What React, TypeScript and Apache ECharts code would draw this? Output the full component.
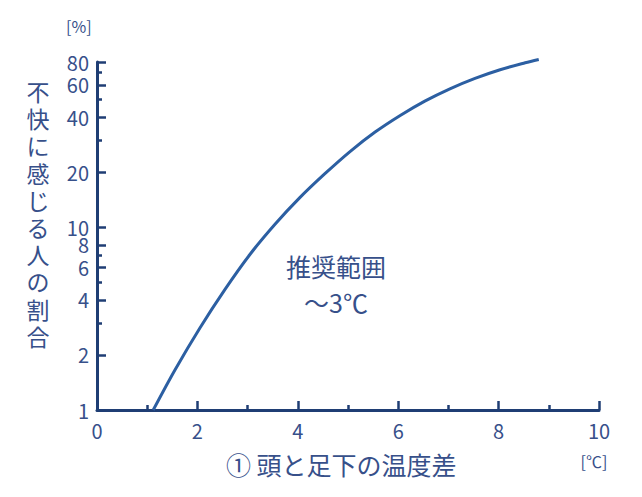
import React, { useEffect, useRef } from "react";
import * as echarts from "echarts";

const xValues = [1.12, 1.55, 2.05, 2.55, 3.05, 3.55, 4.04, 4.54, 5.04, 5.54, 6.04, 6.53, 7.03, 7.53, 8.03, 8.53, 8.8];
const yValues = [1, 1.65, 2.81, 4.57, 7.11, 10.4, 14.5, 19.6, 25.9, 33.1, 40.8, 48.9, 57.1, 65.1, 72.6, 79.2, 82.6];
const yMajorTicks = [1, 2, 4, 6, 8, 10, 20, 40, 60, 80];
const yMinorTicks = [3, 5, 7, 30, 50, 70];
const xTickLabels = [0, 2, 4, 6, 8, 10];
const yTitleChars = ["不", "快", "に", "感", "じ", "る", "人", "の", "割", "合"];

const AXIS = "#1f3e74";
const LINE = "#2c5fa2";
const TEXT = "#37508a";
const FONT = "'Noto Sans CJK JP', 'Noto Sans', sans-serif";

export default function App() {
  const ref = useRef<HTMLDivElement>(null);
  useEffect(() => {
    if (!ref.current) return;
    const chart = echarts.init(ref.current, null, { renderer: "svg" });
    const titleEls = yTitleChars.map((c, i) => ({
      type: "text",
      x: 38,
      y: 91 + i * 27.2,
      style: { text: c, fill: TEXT, fontSize: 23, fontFamily: FONT, align: "center", verticalAlign: "middle" },
    }));
    chart.setOption({
      animation: false,
      backgroundColor: "#ffffff",
      grid: { left: 97, right: 43, top: 62, bottom: 87, containLabel: false },
      xAxis: {
        type: "value",
        min: 0,
        max: 10,
        interval: 2,
        axisLine: { show: true, lineStyle: { color: AXIS, width: 3 } },
        axisTick: { show: true, inside: true, length: 9, lineStyle: { color: AXIS, width: 2.5 } },
        minorTick: { show: true, splitNumber: 2, length: 5, lineStyle: { color: AXIS, width: 2.5 } },
        axisLabel: {
          color: TEXT,
          fontSize: 20,
          fontFamily: FONT,
          margin: 10,
          formatter: (v: number) => (xTickLabels.includes(v) ? String(v) : ""),
        },
        splitLine: { show: false },
      },
      yAxis: [
        {
          type: "log",
          logBase: 10,
          min: 1,
          max: 80,
          position: "left",
          axisLine: { show: true, onZero: false, lineStyle: { color: AXIS, width: 3 } },
          axisTick: { show: true, inside: true, length: 9, customValues: yMajorTicks, lineStyle: { color: AXIS, width: 2.5 } },
          axisLabel: { color: TEXT, fontSize: 20, lineHeight: 16, fontFamily: FONT, margin: 8, customValues: yMajorTicks },
          splitLine: { show: false },
          minorTick: { show: false },
        },
        {
          type: "log",
          logBase: 10,
          min: 1,
          max: 80,
          position: "left",
          axisLine: { show: false },
          axisTick: { show: true, inside: true, length: 5, customValues: yMinorTicks, lineStyle: { color: AXIS, width: 2.5 } },
          axisLabel: { show: false },
          splitLine: { show: false },
        },
      ],
      series: [
        {
          type: "line",
          data: xValues.map((x, i) => [x, yValues[i]]),
          yAxisIndex: 0,
          smooth: 0.3,
          showSymbol: false,
          clip: false,
          lineStyle: { color: LINE, width: 3 },
        },
      ],
      graphic: [
        {
          type: "text",
          left: 66,
          top: 18,
          style: { text: "[%]", fill: TEXT, fontSize: 16, fontFamily: FONT },
        },
        ...titleEls,
        {
          type: "text",
          x: 336,
          y: 266,
          style: { text: "推奨範囲", fill: TEXT, fontSize: 25, fontFamily: FONT, align: "center", verticalAlign: "middle" },
        },
        {
          type: "text",
          x: 336,
          y: 302,
          style: { text: "～3℃", fill: TEXT, fontSize: 25, fontFamily: FONT, align: "center", verticalAlign: "middle" },
        },
        {
          type: "text",
          x: 226,
          y: 464,
          style: { text: "① 頭と足下の温度差", fill: TEXT, fontSize: 25, fontFamily: FONT, verticalAlign: "middle" },
        },
        {
          type: "text",
          x: 594,
          y: 461,
          style: { text: "[℃]", fill: TEXT, fontSize: 16, fontFamily: FONT, align: "center", verticalAlign: "middle" },
        },
      ],
    });
    return () => chart.dispose();
  }, []);
  return <div ref={ref} style={{ position: "absolute", left: 0, top: 0, width: 642, height: 497 }} />;
}
